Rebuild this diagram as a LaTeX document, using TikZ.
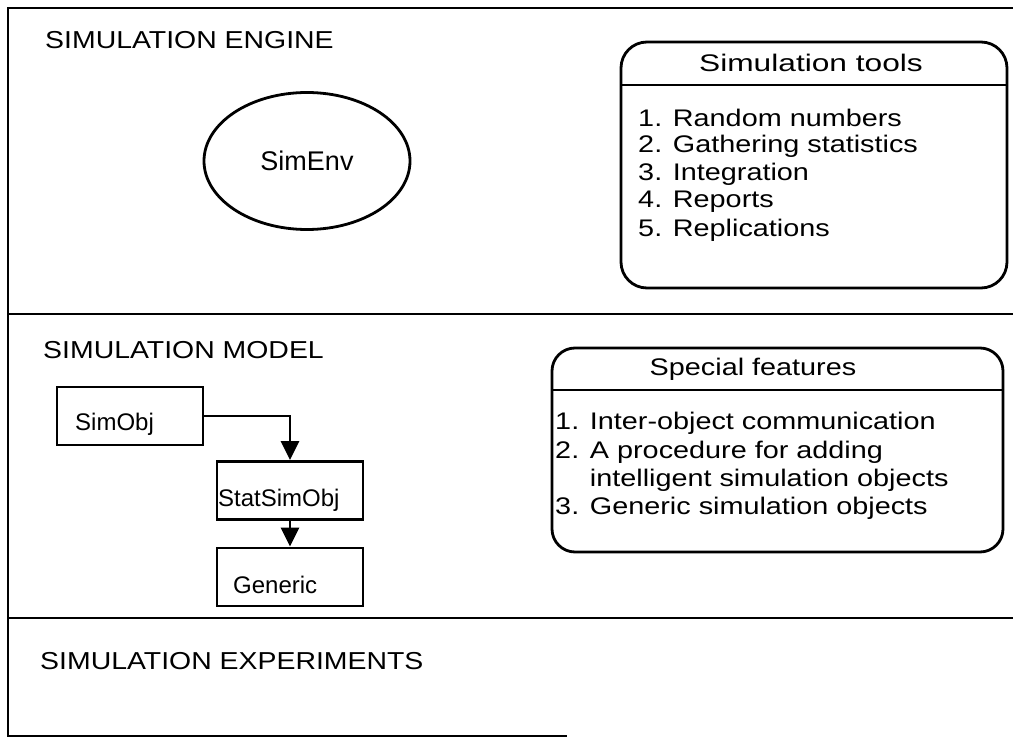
\documentclass[tikz,border=0pt]{standalone}
\usepackage{fontspec}
\setmainfont{Liberation Sans}
\usetikzlibrary{arrows.meta,shapes.geometric}

\tikzset{
  frameline/.style={line width=2.8pt},
  layerlabel/.style={anchor=west, inner sep=0pt, font=\fontsize{24.5}{28}\selectfont, xscale=1.16},
  classbox/.style={draw, line width=2.8pt, minimum width=146pt, minimum height=58pt, inner sep=0pt},
  classtext/.style={anchor=west, inner sep=0pt, font=\fontsize{24}{28}\selectfont},
  panel/.style={draw, line width=2.8pt, rounded corners=26pt},
  paneltitle/.style={inner sep=0pt, font=\fontsize{24}{28}\selectfont, xscale=1.2},
  panelitem/.style={anchor=west, inner sep=0pt, font=\fontsize{24}{28}\selectfont, xscale=1.2},
  inherit/.style={line width=2.8pt, -{Triangle[length=19pt, width=18pt]}},
}

\begin{document}
\begin{tikzpicture}[x=1pt, y=-1pt]
\useasboundingbox (0,0) rectangle (1013,738);

% outer frame and layer dividers
\coordinate (tl) at (8,8);
\coordinate (tr) at (1013,8);
\coordinate (bl) at (8,736);
\coordinate (br) at (567,736);
\coordinate (m1l) at (8,314);
\coordinate (m1r) at (1013,314);
\coordinate (m2l) at (8,618);
\coordinate (m2r) at (1013,618);
\draw[frameline] (tr) -- (tl) -- (bl) -- (br);
\draw[frameline] (m1l) -- (m1r);
\draw[frameline] (m2l) -- (m2r);

% layer labels
\node[layerlabel] (engine) at (45,40) {SIMULATION ENGINE};
\node[layerlabel] (model) at (43,350.5) {SIMULATION MODEL};
\node[layerlabel] (experiments) at (40,661.5) {SIMULATION EXPERIMENTS};

% simulation environment
\node[draw, ellipse, line width=2.8pt, minimum width=206pt, minimum height=137pt,
      font=\fontsize{27}{30}\selectfont] (simenv) at (307,161) {SimEnv};

% simulation tools panel
\draw[panel] (621,42) rectangle (1007,288);
\draw[line width=2.8pt] (621,85) -- (1007,85);
\node[paneltitle, xscale=1.1] (toolstitle) at (811,63) {Simulation tools};
\node[panelitem] (t1) at (638,118) {1. Random numbers};
\node[panelitem] (t2) at (638,146) {2. Gathering statistics};
\node[panelitem] (t3) at (638,174) {3. Integration};
\node[panelitem] (t4) at (638,202) {4. Reports};
\node[panelitem] (t5) at (638,230) {5. Replications};

% special features panel
\draw[panel, rounded corners=23pt] (552,348) rectangle (1003,552);
\draw[line width=2.8pt] (552,390) -- (1003,390);
\node[paneltitle] (spectitle) at (753,369) {Special features};
\node[panelitem] (s1) at (555,423) {1. Inter-object communication};
\node[panelitem] (s2) at (555,452) {2. A procedure for adding};
\node[panelitem] (s3) at (555,480) {\phantom{2. }intelligent simulation objects};
\node[panelitem] (s4) at (555,508) {3. Generic simulation objects};

% class hierarchy
\node[classbox] (simobj) at (130,416) {};
\node[classbox] (statsimobj) at (290,490.5) {};
\node[classbox] (generic) at (290,577) {};
\node[classtext] (simobjname) at (75,424) {SimObj};
\node[classtext] (statname) at (218,500) {StatSimObj};
\node[classtext] (genericname) at (233,585) {Generic};

\draw[inherit] (simobj.east) -| (statsimobj.north);
\draw[inherit] (statsimobj.south) -- (generic.north);
\end{tikzpicture}
\end{document}
